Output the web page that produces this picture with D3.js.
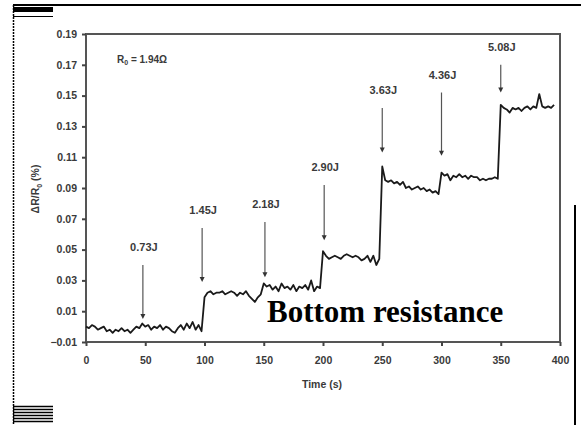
<!DOCTYPE html>
<html>
<head>
<meta charset="utf-8">
<script src="https://cdn.jsdelivr.net/npm/d3@7"></script>
<style>
  body { margin: 0; background: #fff; }
  svg { display: block; }
  text { font-family: "Liberation Sans", Arial, sans-serif; font-weight: bold; fill: #3a3a3a; }
</style>
</head>
<body>
<svg id="chart" width="581" height="425"></svg>
<script>
// resistance change trace, sampled every 2.5 s from t = 0
const sampleStep = 2.5;
const deltaR = [
  0.000, -0.001, 0.001, 0.000, -0.002, -0.001, 0.000, -0.003, -0.002, -0.004,
  -0.002, -0.003, -0.001, -0.003, -0.002, -0.004, -0.002, 0.000, -0.001, 0.002,
  0.000, 0.001, -0.002, 0.000, -0.001, 0.001, -0.002, 0.000, -0.001, -0.003,
  -0.004, -0.001, 0.001, -0.002, 0.002, -0.001, 0.003, -0.002, 0.001, -0.003,
  // 100 s
  0.019, 0.022, 0.023, 0.021, 0.022, 0.022, 0.023, 0.021, 0.022, 0.023,
  0.022, 0.020, 0.022, 0.021, 0.023, 0.020, 0.018, 0.016, 0.019, 0.021,
  // 150 s
  0.028, 0.026, 0.027, 0.024, 0.026, 0.023, 0.028, 0.025, 0.026, 0.024,
  0.027, 0.023, 0.026, 0.025, 0.027, 0.024, 0.030, 0.023, 0.026, 0.025,
  // 200 s
  0.049, 0.046, 0.044, 0.045, 0.046, 0.045, 0.044, 0.046, 0.047, 0.046,
  0.045, 0.046, 0.045, 0.043, 0.044, 0.046, 0.042, 0.046, 0.040, 0.044,
  // 250 s
  0.104, 0.095, 0.094, 0.095, 0.093, 0.094, 0.092, 0.094, 0.090, 0.091,
  0.089, 0.090, 0.091, 0.089, 0.090, 0.088, 0.089, 0.087, 0.088, 0.086,
  // 300 s
  0.100, 0.098, 0.099, 0.095, 0.098, 0.097, 0.099, 0.097, 0.098, 0.096,
  0.098, 0.097, 0.097, 0.095, 0.096, 0.095, 0.096, 0.096, 0.097, 0.096,
  // 350 s
  0.144, 0.142, 0.141, 0.139, 0.142, 0.141, 0.142, 0.140, 0.142, 0.143,
  0.141, 0.143, 0.142, 0.151, 0.143, 0.142, 0.143, 0.142, 0.144
];

// impact energies and their arrows
const energyLabels = ['0.73J', '1.45J', '2.18J', '2.90J', '3.63J', '4.36J', '5.08J'];
const arrowTime = [48, 98, 151, 201, 250, 300, 350];
const arrowTip = [0.005, 0.029, 0.032, 0.056, 0.113, 0.111, 0.152];
const arrowTail = [0.040, 0.064, 0.068, 0.092, 0.142, 0.152, 0.170];

const yTicks = [-0.01, 0.01, 0.03, 0.05, 0.07, 0.09, 0.11, 0.13, 0.15, 0.17, 0.19];
const xTicks = [0, 50, 100, 150, 200, 250, 300, 350, 400];

var svg = d3.select('#chart');

var x = d3.scaleLinear().domain([0, 400]).range([86, 560]);
var y = d3.scaleLinear().domain([-0.01, 0.19]).range([342, 34]);

// page decorations from the scan
svg.append('line').attr('x1', 13).attr('x2', 581).attr('y1', 5).attr('y2', 5)
  .attr('stroke', '#000').attr('stroke-width', 2);
svg.append('line').attr('x1', 13.5).attr('x2', 13.5).attr('y1', 5).attr('y2', 425)
  .attr('stroke', '#000').attr('stroke-width', 1.5).attr('stroke-dasharray', '2,1');
svg.append('rect').attr('x', 13).attr('y', 7).attr('width', 40).attr('height', 5).attr('fill', '#000');
svg.append('line').attr('x1', 13).attr('x2', 53).attr('y1', 16.5).attr('y2', 16.5)
  .attr('stroke', '#000').attr('stroke-width', 1);
svg.append('line').attr('x1', 575).attr('x2', 575).attr('y1', 205).attr('y2', 425)
  .attr('stroke', '#000').attr('stroke-width', 2);
svg.selectAll('.stack')
  .data([406, 409, 412, 415, 418, 421])
  .enter()
    .append('line')
      .attr('x1', 13).attr('x2', 53)
      .attr('y1', d => d + 0.5).attr('y2', d => d + 0.5)
      .attr('stroke', '#000').attr('stroke-width', 1.5);

// plot frame
svg.append('rect')
  .attr('x', x(0)).attr('y', y(0.19))
  .attr('width', x(400) - x(0)).attr('height', y(-0.01) - y(0.19))
  .attr('fill', 'none').attr('stroke', '#555').attr('stroke-width', 2);

var yAxis = svg.append('g')
  .attr('transform', 'translate(' + x(0) + ',0)')
  .call(d3.axisLeft(y).tickValues(yTicks).tickSize(4).tickPadding(5).tickFormat(d3.format('.2f')));
var xAxis = svg.append('g')
  .attr('transform', 'translate(0,' + y(-0.01) + ')')
  .call(d3.axisBottom(x).tickValues(xTicks).tickSize(4).tickPadding(11));

[yAxis, xAxis].forEach(function(g) {
  g.select('.domain').remove();
  g.selectAll('line').attr('stroke', '#444').attr('stroke-width', 2);
  g.selectAll('text')
    .style('font-family', '"Liberation Sans", Arial, sans-serif')
    .style('font-weight', 'bold')
    .style('font-size', '10.5px')
    .style('fill', '#3a3a3a');
});

// axis titles
svg.append('text')
  .attr('x', 322).attr('y', 388)
  .attr('text-anchor', 'middle').attr('font-size', 10.5)
  .text('Time (s)');
var ylab = svg.append('text')
  .attr('transform', 'translate(39,189) rotate(-90)')
  .attr('text-anchor', 'middle').attr('font-size', 10.5);
ylab.append('tspan').text('\u0394R/R');
ylab.append('tspan').attr('font-size', 7).attr('dy', 3).text('0');
ylab.append('tspan').attr('dy', -3).text(' (%)');

// R0 note
var r0 = svg.append('text').attr('x', 117).attr('y', 63).attr('font-size', 10);
r0.append('tspan').text('R');
r0.append('tspan').attr('font-size', 7).attr('dy', 2).text('0');
r0.append('tspan').attr('dy', -2).text(' = 1.94\u03A9');

// trace
var line = d3.line()
  .x((d, i) => x(i * sampleStep))
  .y(d => y(d));
svg.append('path')
  .datum(deltaR)
  .attr('d', line)
  .attr('fill', 'none')
  .attr('stroke', '#1a1a1a')
  .attr('stroke-width', 1.8)
  .attr('stroke-linejoin', 'round');

// arrows and energy labels
var arrows = svg.selectAll('.arrow')
  .data(energyLabels)
  .enter()
    .append('g')
      .attr('class', 'arrow');
arrows.append('line')
  .attr('x1', (d, i) => x(arrowTime[i]))
  .attr('x2', (d, i) => x(arrowTime[i]))
  .attr('y1', (d, i) => y(arrowTail[i]))
  .attr('y2', (d, i) => y(arrowTip[i]) - 3)
  .attr('stroke', '#555')
  .attr('stroke-width', 1.2);
arrows.append('path')
  .attr('d', function(d, i) {
    var px = x(arrowTime[i]), py = y(arrowTip[i]);
    return 'M' + (px - 2.5) + ',' + (py - 5) + 'L' + (px + 2.5) + ',' + (py - 5) + 'L' + px + ',' + py + 'Z';
  })
  .attr('fill', '#333');
arrows.append('text')
  .attr('x', (d, i) => x(arrowTime[i]) + 1)
  .attr('y', (d, i) => y(arrowTail[i]) - 14)
  .attr('text-anchor', 'middle')
  .attr('font-size', 11)
  .text(d => d);

// overlay caption
svg.append('text')
  .attr('x', 267).attr('y', 322)
  .style('font-family', '"Liberation Serif", "Times New Roman", serif')
  .style('font-weight', 'bold')
  .style('font-size', '31px')
  .style('fill', '#000')
  .text('Bottom resistance');
</script>
</body>
</html>
